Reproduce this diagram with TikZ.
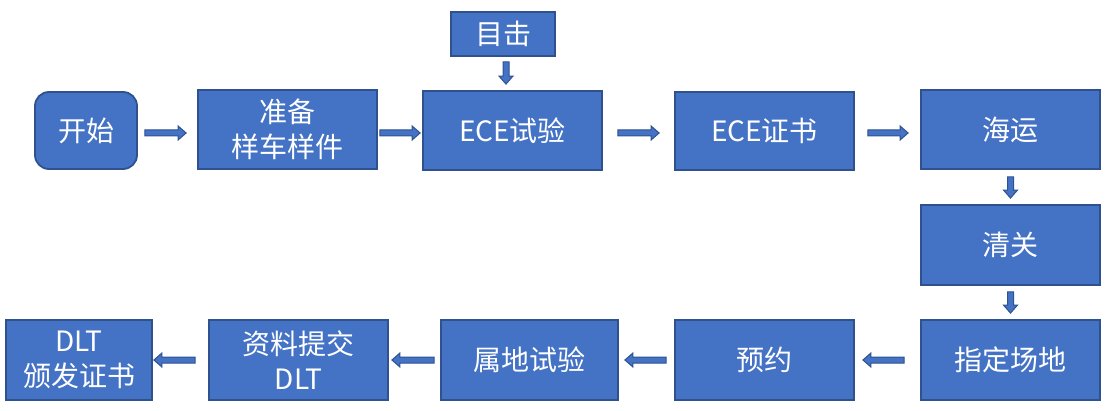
\documentclass[tikz,border=0pt]{standalone}
\usepackage{fontspec}
\setmainfont{Noto Sans CJK SC}
\usetikzlibrary{calc}
\definecolor{boxfill}{HTML}{4472C4}
\definecolor{boxedge}{HTML}{2F528F}
\begin{document}
\begin{tikzpicture}[x=1pt,y=-1pt,
  box/.style={draw=boxedge, fill=boxfill, line width=1.8pt, text=white,
    font=\fontsize{28}{35}\selectfont, align=center, inner sep=0pt,
    minimum width=179pt, minimum height=79pt},
  blk/.style={draw=boxedge, fill=boxfill, line width=1pt, line join=miter,
    to path={
      ($(\tikztostart)!3pt!90:(\tikztotarget)$)
      -- ($(\tikztotarget)!8pt!(\tikztostart)!3pt!-90:(\tikztostart)$)
      -- ($(\tikztotarget)!8pt!(\tikztostart)!7pt!-90:(\tikztostart)$)
      -- (\tikztotarget)
      -- ($(\tikztotarget)!8pt!(\tikztostart)!7pt!90:(\tikztostart)$)
      -- ($(\tikztotarget)!8pt!(\tikztostart)!3pt!90:(\tikztostart)$)
      -- ($(\tikztostart)!3pt!-90:(\tikztotarget)$)
      -- cycle}}]
\useasboundingbox (0,0) rectangle (1115,411);
% top row
\node[box, rounded corners=14pt, minimum width=102pt, minimum height=77pt] (start) at (86,130.5) {开始};
\node[box] (prep) at (287.5,129.5) {准备\\样车样件};
\node[box] (ece) at (512.5,130.5) {ECE试验};
\node[box, minimum width=104pt, minimum height=44pt] (wit) at (503,34) {目击};
\node[box, minimum height=78pt] (cert) at (764.5,131) {ECE证书};
\node[box] (ship) at (1010.5,129.5) {海运};
% right column
\node[box, minimum height=80pt] (clear) at (1010.5,245) {清关};
\node[box, minimum height=80pt] (site) at (1010.5,360) {指定场地};
% bottom row
\node[box, minimum height=80pt] (appt) at (764.5,360) {预约};
\node[box, minimum width=177pt, minimum height=80pt] (local) at (529.5,360) {属地试验};
\node[box, minimum height=80pt] (docs) at (298.5,360) {资料提交\\DLT};
\node[box, minimum width=146pt, minimum height=80pt] (dlt) at (79,360) {DLT\\颁发证书};
% arrow end points
\coordinate (a1s) at ($(start.east)+(7,2.5)$);
\coordinate (a1e) at ($(a1s -| prep.west)+(-11,0)$);
\coordinate (a2s) at ($(prep.east)+(2,3.5)$);
\coordinate (a2e) at ($(a2s -| ece.west)+(-2,0)$);
\coordinate (a3s) at ($(ece.east)+(15,2.5)$);
\coordinate (a3e) at ($(a3s -| cert.west)+(-15,0)$);
\coordinate (a4s) at ($(cert.east)+(13,2)$);
\coordinate (a4e) at ($(a4s -| ship.west)+(-12,0)$);
\coordinate (w0s) at ($(wit.south)+(3,5)$);
\coordinate (w0e) at ($(w0s |- ece.north)+(0,-6)$);
\coordinate (v1s) at ($(ship.south)+(0,7)$);
\coordinate (v1e) at ($(v1s |- clear.north)+(0,-6)$);
\coordinate (v2s) at ($(clear.south)+(0,6)$);
\coordinate (v2e) at ($(v2s |- site.north)+(0,-6)$);
\coordinate (b4s) at ($(site.west)+(-16,0)$);
\coordinate (b4e) at ($(b4s -| appt.east)+(8,0)$);
\coordinate (b3s) at ($(appt.west)+(-8,0)$);
\coordinate (b3e) at ($(b3s -| local.east)+(6,0)$);
\coordinate (b2s) at ($(local.west)+(-6,0)$);
\coordinate (b2e) at ($(b2s -| docs.east)+(3,0)$);
\coordinate (b1s) at ($(docs.west)+(-13,0)$);
\coordinate (b1e) at ($(b1s -| dlt.east)+(1,0)$);
% arrows
\draw[blk] (a1s) to (a1e);
\draw[blk] (a2s) to (a2e);
\draw[blk] (a3s) to (a3e);
\draw[blk] (a4s) to (a4e);
\draw[blk] (w0s) to (w0e);
\draw[blk] (v1s) to (v1e);
\draw[blk] (v2s) to (v2e);
\draw[blk] (b4s) to (b4e);
\draw[blk] (b3s) to (b3e);
\draw[blk] (b2s) to (b2e);
\draw[blk] (b1s) to (b1e);
\end{tikzpicture}
\end{document}
